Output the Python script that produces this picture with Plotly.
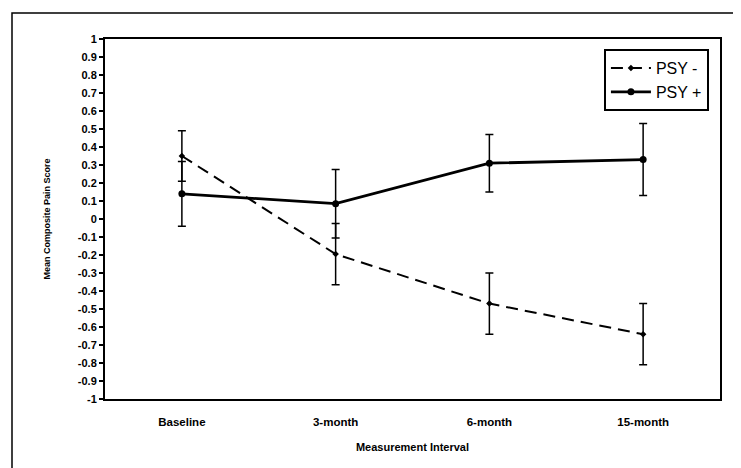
import plotly.graph_objects as go

categories = ["Baseline", "3-month", "6-month", "15-month"]
psy_minus = [0.35, -0.195, -0.47, -0.64]
psy_minus_err = [0.14, 0.17, 0.17, 0.17]
psy_plus = [0.14, 0.085, 0.31, 0.33]
psy_plus_err = [0.18, 0.19, 0.16, 0.20]
y_tickvals = [1, 0.9, 0.8, 0.7, 0.6, 0.5, 0.4, 0.3, 0.2, 0.1, 0, -0.1, -0.2, -0.3, -0.4, -0.5, -0.6, -0.7, -0.8, -0.9, -1]
y_ticktext = ["1", "0.9", "0.8", "0.7", "0.6", "0.5", "0.4", "0.3", "0.2", "0.1", "0", "-0.1", "-0.2", "-0.3", "-0.4", "-0.5", "-0.6", "-0.7", "-0.8", "-0.9", "-1"]

FONT = "Liberation Sans, Arial, sans-serif"

fig = go.Figure()
fig.add_trace(go.Scatter(
    x=categories, y=psy_minus, name="PSY -", mode="lines+markers",
    line=dict(color="black", width=2, dash="12px,7px"),
    marker=dict(symbol="diamond", size=5, color="black"),
    error_y=dict(type="data", array=psy_minus_err, visible=True, color="black", thickness=1.5, width=4),
))
fig.add_trace(go.Scatter(
    x=categories, y=psy_plus, name="PSY +", mode="lines+markers",
    line=dict(color="black", width=2.8),
    marker=dict(symbol="circle", size=7, color="black"),
    error_y=dict(type="data", array=psy_plus_err, visible=True, color="black", thickness=1.5, width=4),
))

fig.update_layout(
    width=741, height=468,
    margin=dict(l=97, r=29, t=31, b=77),
    paper_bgcolor="white", plot_bgcolor="white",
    font=dict(family=FONT, color="black"),
    showlegend=True,
    legend=dict(
        x=0.982, y=0.972, xanchor="right", yanchor="top",
        bordercolor="black", borderwidth=2, bgcolor="white",
        font=dict(size=16, family=FONT, color="black"),
        tracegroupgap=0, itemwidth=40,
    ),
    xaxis=dict(
        type="category", range=[-0.5, 3.5],
        showline=True, linecolor="black", linewidth=2, mirror=True,
        showgrid=False, zeroline=False, ticks="", ticklabelstandoff=11,
        tickfont=dict(size=11.5, family=FONT, weight="bold"),
        title=dict(text="Measurement Interval", font=dict(size=11, family=FONT, weight="bold"), standoff=17),
    ),
    yaxis=dict(
        range=[-1, 1],
        tickvals=y_tickvals, ticktext=y_ticktext,
        showline=True, linecolor="black", linewidth=2, mirror=True,
        showgrid=False, zeroline=False, ticks="outside", ticklen=4, tickwidth=1.5, tickcolor="black",
        tickfont=dict(size=11, family=FONT, weight="bold"),
        title=dict(text="Mean Composite Pain Score", font=dict(size=9, family=FONT, weight="bold"), standoff=26),
    ),
    shapes=[dict(
        type="rect", xref="paper", yref="paper",
        x0=(4 - 97) / 615, x1=1.06, y0=-0.25, y1=(391 - 5) / 360,
        line=dict(color="black", width=1.5), layer="below",
    )],
)

fig.write_html("out.html")
